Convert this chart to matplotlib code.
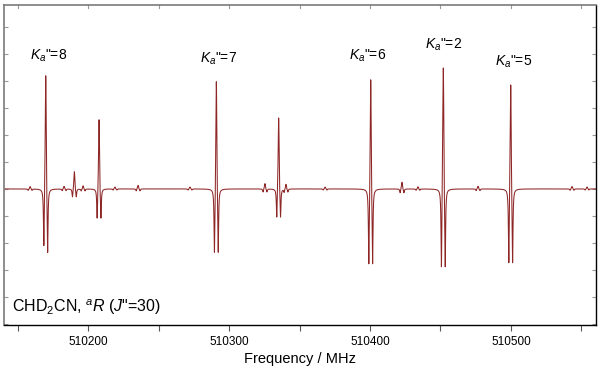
import numpy as np
import matplotlib
matplotlib.use("Agg")
import matplotlib.pyplot as plt

plt.rcParams['font.family'] = ['Liberation Sans', 'DejaVu Sans']
plt.rcParams['mathtext.fontset'] = 'custom'
plt.rcParams['mathtext.rm'] = 'Liberation Sans'
plt.rcParams['mathtext.it'] = 'Liberation Sans:italic'

# ---- line list (MHz, peak height, left lobe depth, right lobe depth)
line_freq = [510170.0, 510190.3, 510207.8, 510291.0, 510335.2, 510400.5, 510452.0, 510499.8,
             510158.9, 510183.0, 510196.5, 510219.1, 510235.5, 510272.3, 510325.5, 510340.4,
             510368.1, 510422.7, 510434.0, 510476.6, 510543.3, 510553.9]
line_height = [4.19, 0.64, 2.56, 3.97, 2.63, 4.04, 4.48, 3.85,
               0.09, 0.10, 0.12, 0.07, 0.13, 0.07, 0.20, 0.18,
               0.07, 0.25, 0.08, 0.10, 0.09, 0.07]
line_depth_l = [2.07, 0.29, 1.07, 2.32, 1.03, 2.74, 2.85, 2.70,
                0.05, 0.06, 0.07, 0.04, 0.07, 0.04, 0.11, 0.11,
                0.04, 0.14, 0.05, 0.06, 0.05, 0.04]
line_depth_r = [2.33, 0.29, 1.07, 2.32, 1.03, 2.74, 2.85, 2.70,
                0.05, 0.06, 0.07, 0.04, 0.07, 0.04, 0.11, 0.11,
                0.04, 0.14, 0.05, 0.06, 0.05, 0.04]

label_text = ['$K_a$"=8', '$K_a$"=7', '$K_a$"=6', '$K_a$"=2', '$K_a$"=5']
label_x = [510172.3, 510292.9, 510398.6, 510452.5, 510502.1]
label_y = [4.93, 4.81, 4.93, 5.33, 4.70]

xticks_major = [510200, 510300, 510400, 510500]
xticks_minor = [510150, 510250, 510350, 510450, 510550]
xlim = (510140.4, 510560.3)
ylim = (-5.04, 6.81)

# ---- spectrum built from the line list (2f-type line shape)
freq = np.arange(xlim[0], xlim[1], 0.02)
sig = 0.35   # central peak width (MHz)
gam = 0.32   # lobe half width (MHz)
off = 1.35   # lobe offset (MHz)

def lor(x):
    return 1.0 / (1.0 + (x / gam) ** 2)

spec = np.zeros_like(freq)
for c, h, dl, dr in zip(line_freq, line_height, line_depth_l, line_depth_r):
    x = freq - c
    hc = h + (dl + dr) * lor(off)
    spec += hc * np.exp(-x ** 2 / (2 * sig ** 2)) - dl * lor(x + off) - dr * lor(x - off)

fig = plt.figure(figsize=(6.0, 3.72), dpi=100)
ax = fig.add_axes([4 / 600, 1 - 325 / 372, 592 / 600, 320 / 372])
ax.plot(freq, spec, color='#8e2626', lw=0.75)

ax.set_xlim(*xlim)
ax.set_ylim(*ylim)
ax.set_xticks(xticks_major)
ax.set_xticklabels([str(t) for t in xticks_major], fontsize=8.5)
ax.set_xticks(xticks_minor, minor=True)
ax.set_yticks(np.arange(-5, 7))
ax.set_yticklabels([])
ax.tick_params(axis='x', which='both', direction='out', length=4, width=0.8, pad=4,
               top=False)
ax.tick_params(axis='y', which='both', direction='in', length=3, width=0.8,
               left=True, right=True, colors='#999999')
ax.tick_params(axis='x', which='both', color='#555555')

for s in ['left', 'top']:
    ax.spines[s].set_color('#7a7a7a')
    ax.spines[s].set_linewidth(1.2)
for s in ['right', 'bottom']:
    ax.spines[s].set_color('black')
    ax.spines[s].set_linewidth(1.0)

# top ticks (inward, gray)
for t in xticks_major + xticks_minor:
    ax.plot([t, t], [ylim[1], ylim[1] - 0.1], color='#999999', lw=0.8, clip_on=False)

ax.set_xlabel('Frequency / MHz', fontsize=10.5, labelpad=3)

for t, lx, ly in zip(label_text, label_x, label_y):
    ax.text(lx, ly, t, fontsize=10, ha='center', va='center')

ax.text(0.0135, 0.056, 'CHD$_2$CN, $^{a}R$ ($J$"=30)', transform=ax.transAxes,
        fontsize=11.5, ha='left', va='center')

fig.savefig('out.png', dpi=100)
